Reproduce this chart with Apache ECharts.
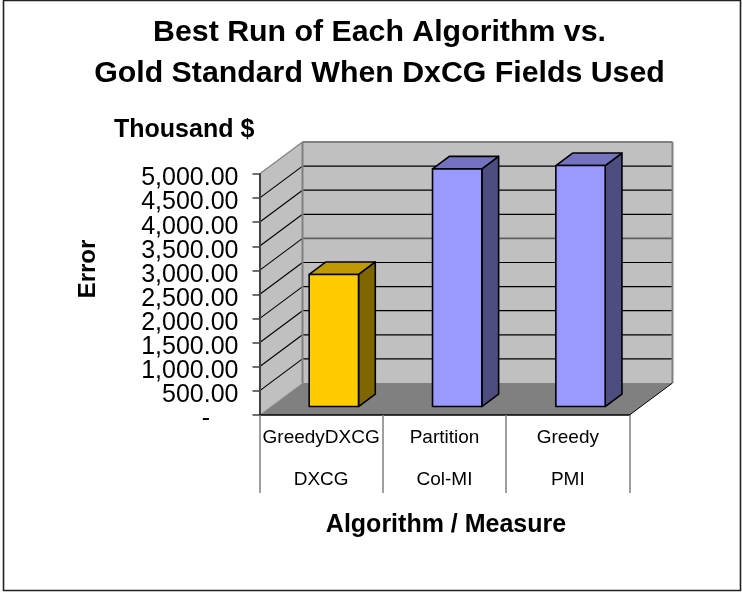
<!DOCTYPE html>
<html>
<head>
<meta charset="utf-8">
<style>html,body{margin:0;padding:0;background:#fff}#c{width:742px;height:592px}</style>
<script src="https://cdn.jsdelivr.net/npm/echarts@6/dist/echarts.min.js"></script>
</head>
<body>
<div id="c"></div>
<script>
const algorithms = ['GreedyDXCG', 'Partition', 'Greedy'];
const measures = ['DXCG', 'Col-MI', 'PMI'];
const errors = [2740, 4930, 5000];
const frontColors = ['#FFCC00', '#9999FF', '#9999FF'];
const topColors = ['#BF9900', '#7373BF', '#7373BF'];
const sideColors = ['#7F6600', '#4D4D80', '#4D4D80'];
const ticks = [0, 500, 1000, 1500, 2000, 2500, 3000, 3500, 4000, 4500, 5000];
const tickLabels = ['-', '500.00', '1,000.00', '1,500.00', '2,000.00', '2,500.00', '3,000.00', '3,500.00', '4,000.00', '4,500.00', '5,000.00'];

const DX = 43, DY = -32;          // depth of the 3D box
const BAR_START_X = 0.295, BAR_START_Y = 0.265, BAR_DEPTH = 0.39, BAR_WIDTH = 0.4;
const FONT = '"Liberation Sans", Arial, sans-serif';

function poly(points, fill, stroke, lw) {
  return { type: 'polygon', shape: { points }, style: { fill, stroke: stroke || null, lineWidth: lw || 0, lineJoin: 'round' } };
}
function line(a, b, stroke, lw) {
  return { type: 'line', shape: { x1: a[0], y1: a[1], x2: b[0], y2: b[1] }, style: { stroke, lineWidth: lw } };
}
function shift(p, f) { return [p[0] + DX * f, p[1] + DY * f]; }

function renderBox(params, api) {
  const cs = params.coordSys;
  const y0 = cs.y + cs.height, y1 = cs.y, x0 = cs.x, x1 = cs.x + cs.width;
  const kids = [];
  kids.push(poly([[x0, y0], shift([x0, y0], 1), shift([x0, y1], 1), [x0, y1]], '#C0C0C0'));
  kids.push(poly([shift([x0, y0], 1), shift([x1, y0], 1), shift([x1, y1], 1), shift([x0, y1], 1)], '#C0C0C0'));
  kids.push(poly([[x0, y0], [x1, y0], shift([x1, y0], 1), shift([x0, y0], 1)], '#808080'));
  ticks.forEach((t, i) => {
    const y = api.coord([0, t])[1];
    kids.push({
      type: 'text',
      style: {
        text: tickLabels[i], x: x0 - (t === 0 ? 49.5 : 21), y: y + 4.5,
        align: 'right', verticalAlign: 'middle', font: '25px ' + FONT, fill: '#000'
      }
    });
    if (t === 0) return;
    const top = t === ticks[ticks.length - 1];
    const soft = t === 3000;
    kids.push(line([x0, y], shift([x0, y], 1), top ? '#808080' : '#000', 1.1));
    kids.push(line(shift([x0, y], 1), shift([x1, y], 1), top ? '#808080' : soft ? '#606060' : '#000', top || soft ? 1.8 : 1.2));
  });
  kids.push(line(shift([x0, y0], 1), shift([x0, y1], 1), '#808080', 2));
  kids.push(line(shift([x1, y0], 1), shift([x1, y1], 1), '#808080', 2));
  kids.push(line([x0, y0], shift([x0, y0], 1), '#A0A0A0', 1));
  kids.push(line([x1, y0], shift([x1, y0], 1), '#000', 1));
  return { type: 'group', children: kids };
}

function renderBar(params, api) {
  const i = api.value(0), v = api.value(1);
  const band = api.size([1, 0])[0];
  const w = band * BAR_WIDTH;
  const base = api.coord([i, 0]), top = api.coord([i, v]);
  const ox = DX * BAR_START_X, oy = DY * BAR_START_Y;
  const a = [base[0] - w / 2 + ox, base[1] + oy];
  const b = [base[0] + w / 2 + ox, base[1] + oy];
  const c = [base[0] + w / 2 + ox, top[1] + oy];
  const d = [base[0] - w / 2 + ox, top[1] + oy];
  const s = p => shift(p, BAR_DEPTH);
  const e = '#000';
  return { type: 'group', children: [
    poly([b, s(b), s(c), c], sideColors[i], e, 1.6),
    poly([d, c, s(c), s(d)], topColors[i], e, 1.6),
    poly([a, b, c, d], frontColors[i], e, 1.6)
  ]};
}

const chart = echarts.init(document.getElementById('c'), null, { renderer: 'canvas' });
chart.setOption({
  animation: false,
  backgroundColor: '#fff',
  title: {
    text: 'Best Run of Each Algorithm vs.\nGold Standard When DxCG Fields Used',
    left: 374.5, top: 7.5, textAlign: 'center',
    textStyle: { fontFamily: FONT, fontWeight: 'bold', fontSize: 30.3, lineHeight: 41, color: '#000' }
  },
  graphic: [
    { type: 'rect', z: -1, shape: { x: 3.5, y: 0.5, width: 737, height: 590 }, style: { fill: '#fff', stroke: '#222', lineWidth: 1.6 } },
    { type: 'text', left: 114, top: 118, style: { text: 'Thousand $', font: 'bold 25px ' + FONT, fill: '#000' } },
    { type: 'text', x: 88, y: 269, rotation: Math.PI / 2, style: { text: 'Error', font: 'bold 24px ' + FONT, fill: '#000', align: 'center', verticalAlign: 'middle' } }
  ],
  grid: { left: 259.5, top: 174, width: 370, height: 241, containLabel: false, outerBoundsMode: 'none' },
  xAxis: {
    type: 'category',
    z: 5,
    data: algorithms,
    name: 'Algorithm / Measure',
    nameLocation: 'middle',
    nameGap: 98,
    nameTextStyle: { fontFamily: FONT, fontWeight: 'bold', fontSize: 25, color: '#000', padding: [0, 0, 0, 3] },
    axisLine: { lineStyle: { color: '#000', width: 1.5 } },
    axisTick: { show: true, length: 78, alignWithLabel: false, lineStyle: { color: '#808080', width: 1.5 } },
    axisLabel: {
      interval: 0, margin: 2, color: '#000', fontFamily: FONT, fontSize: 19, lineHeight: 42,
      formatter: (v, i) => v + '\n' + measures[i]
    }
  },
  yAxis: {
    type: 'value', min: 0, max: 5000, interval: 500, z: 5,
    splitLine: { show: false },
    axisLine: { show: true, onZero: false, lineStyle: { color: '#404040', width: 2 } },
    axisTick: { show: true, length: 7, lineStyle: { color: '#404040', width: 1.5 } },
    axisLabel: { show: false }
  },
  series: [
    { type: 'custom', coordinateSystem: 'cartesian2d', z: 1, silent: true, renderItem: renderBox, data: [[0, 0]], encode: { x: 0, y: 1 }, clip: false },
    { type: 'custom', coordinateSystem: 'cartesian2d', z: 2, silent: true, renderItem: renderBar, data: errors.map((v, i) => [i, v]), encode: { x: 0, y: 1 }, clip: false }
  ]
});
</script>
</body>
</html>
